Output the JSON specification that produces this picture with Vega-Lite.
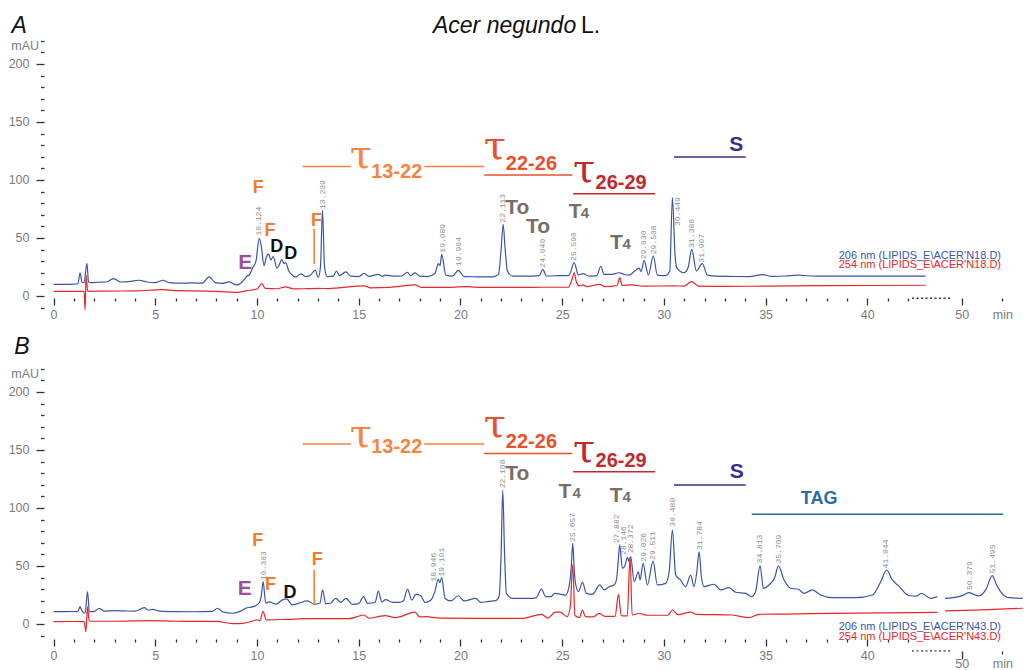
{
"$schema":"https://vega.github.io/schema/vega-lite/v6.json",
"config":{"view":{"stroke":null},"font":"Liberation Sans"},
"padding":{"left":8,"top":14,"right":0,"bottom":0},
"spacing":52,
"bounds":"flush",
"datasets":{
"tr":[
{"p":"A","cls":"206 nm","s":1,"t":0,"v":10},{"p":"A","cls":"206 nm","s":1,"t":0.5,"v":10},{"p":"A","cls":"206 nm","s":1,"t":1.0,"v":10.2},{"p":"A","cls":"206 nm","s":1,"t":1.2,"v":10.5},{"p":"A","cls":"206 nm","s":1,"t":1.3,"v":20},{"p":"A","cls":"206 nm","s":1,"t":1.4,"v":12},{"p":"A","cls":"206 nm","s":1,"t":1.5,"v":11.5},{"p":"A","cls":"206 nm","s":1,"t":1.64,"v":28},{"p":"A","cls":"206 nm","s":1,"t":1.72,"v":12},{"p":"A","cls":"206 nm","s":1,"t":1.85,"v":11.5},{"p":"A","cls":"206 nm","s":1,"t":2.2,"v":11.8},{"p":"A","cls":"206 nm","s":1,"t":2.6,"v":12},{"p":"A","cls":"206 nm","s":1,"t":2.95,"v":15},{"p":"A","cls":"206 nm","s":1,"t":3.3,"v":12},{"p":"A","cls":"206 nm","s":1,"t":3.8,"v":12.5},{"p":"A","cls":"206 nm","s":1,"t":4.18,"v":13.5},{"p":"A","cls":"206 nm","s":1,"t":4.6,"v":12},{"p":"A","cls":"206 nm","s":1,"t":5.0,"v":11.5},{"p":"A","cls":"206 nm","s":1,"t":5.36,"v":13.5},{"p":"A","cls":"206 nm","s":1,"t":5.7,"v":11.5},{"p":"A","cls":"206 nm","s":1,"t":6.2,"v":11},{"p":"A","cls":"206 nm","s":1,"t":6.8,"v":11.2},{"p":"A","cls":"206 nm","s":1,"t":7.3,"v":11},{"p":"A","cls":"206 nm","s":1,"t":7.65,"v":16.4},{"p":"A","cls":"206 nm","s":1,"t":7.95,"v":11.5},{"p":"A","cls":"206 nm","s":1,"t":8.3,"v":10.8},{"p":"A","cls":"206 nm","s":1,"t":8.63,"v":12.2},{"p":"A","cls":"206 nm","s":1,"t":8.96,"v":9.5},{"p":"A","cls":"206 nm","s":1,"t":9.2,"v":11},{"p":"A","cls":"206 nm","s":1,"t":9.37,"v":14},{"p":"A","cls":"206 nm","s":1,"t":9.5,"v":17},{"p":"A","cls":"206 nm","s":1,"t":9.62,"v":18},{"p":"A","cls":"206 nm","s":1,"t":9.78,"v":24},{"p":"A","cls":"206 nm","s":1,"t":9.95,"v":30},{"p":"A","cls":"206 nm","s":1,"t":10.11,"v":49.7},{"p":"A","cls":"206 nm","s":1,"t":10.2,"v":44},{"p":"A","cls":"206 nm","s":1,"t":10.35,"v":26},{"p":"A","cls":"206 nm","s":1,"t":10.45,"v":33},{"p":"A","cls":"206 nm","s":1,"t":10.57,"v":36},{"p":"A","cls":"206 nm","s":1,"t":10.68,"v":31},{"p":"A","cls":"206 nm","s":1,"t":10.8,"v":34},{"p":"A","cls":"206 nm","s":1,"t":10.98,"v":24},{"p":"A","cls":"206 nm","s":1,"t":11.1,"v":27},{"p":"A","cls":"206 nm","s":1,"t":11.22,"v":31.6},{"p":"A","cls":"206 nm","s":1,"t":11.32,"v":28},{"p":"A","cls":"206 nm","s":1,"t":11.42,"v":28.5},{"p":"A","cls":"206 nm","s":1,"t":11.55,"v":22},{"p":"A","cls":"206 nm","s":1,"t":11.67,"v":19},{"p":"A","cls":"206 nm","s":1,"t":11.91,"v":16.4},{"p":"A","cls":"206 nm","s":1,"t":12.16,"v":19},{"p":"A","cls":"206 nm","s":1,"t":12.4,"v":16.7},{"p":"A","cls":"206 nm","s":1,"t":12.6,"v":17.5},{"p":"A","cls":"206 nm","s":1,"t":12.86,"v":22.1},{"p":"A","cls":"206 nm","s":1,"t":13.01,"v":16},{"p":"A","cls":"206 nm","s":1,"t":13.12,"v":25},{"p":"A","cls":"206 nm","s":1,"t":13.22,"v":73.9},{"p":"A","cls":"206 nm","s":1,"t":13.32,"v":25},{"p":"A","cls":"206 nm","s":1,"t":13.45,"v":16.7},{"p":"A","cls":"206 nm","s":1,"t":13.75,"v":17},{"p":"A","cls":"206 nm","s":1,"t":13.91,"v":21.5},{"p":"A","cls":"206 nm","s":1,"t":14.05,"v":17.5},{"p":"A","cls":"206 nm","s":1,"t":14.37,"v":20.8},{"p":"A","cls":"206 nm","s":1,"t":14.6,"v":17},{"p":"A","cls":"206 nm","s":1,"t":15.0,"v":16.7},{"p":"A","cls":"206 nm","s":1,"t":15.27,"v":19.4},{"p":"A","cls":"206 nm","s":1,"t":15.5,"v":16.8},{"p":"A","cls":"206 nm","s":1,"t":15.97,"v":18.6},{"p":"A","cls":"206 nm","s":1,"t":16.15,"v":17},{"p":"A","cls":"206 nm","s":1,"t":16.33,"v":18},{"p":"A","cls":"206 nm","s":1,"t":16.74,"v":17},{"p":"A","cls":"206 nm","s":1,"t":17.1,"v":17.2},{"p":"A","cls":"206 nm","s":1,"t":17.4,"v":20.4},{"p":"A","cls":"206 nm","s":1,"t":17.55,"v":17.5},{"p":"A","cls":"206 nm","s":1,"t":17.77,"v":19.8},{"p":"A","cls":"206 nm","s":1,"t":18.0,"v":17},{"p":"A","cls":"206 nm","s":1,"t":18.38,"v":16.7},{"p":"A","cls":"206 nm","s":1,"t":18.74,"v":19.3},{"p":"A","cls":"206 nm","s":1,"t":18.92,"v":27.9},{"p":"A","cls":"206 nm","s":1,"t":19.0,"v":26},{"p":"A","cls":"206 nm","s":1,"t":19.08,"v":35.9},{"p":"A","cls":"206 nm","s":1,"t":19.28,"v":18},{"p":"A","cls":"206 nm","s":1,"t":19.6,"v":17},{"p":"A","cls":"206 nm","s":1,"t":19.9,"v":22},{"p":"A","cls":"206 nm","s":1,"t":20.18,"v":16.7},{"p":"A","cls":"206 nm","s":1,"t":20.8,"v":16.5},{"p":"A","cls":"206 nm","s":1,"t":21.57,"v":16.4},{"p":"A","cls":"206 nm","s":1,"t":21.87,"v":18.6},{"p":"A","cls":"206 nm","s":1,"t":22.0,"v":40},{"p":"A","cls":"206 nm","s":1,"t":22.1,"v":61.8},{"p":"A","cls":"206 nm","s":1,"t":22.2,"v":40},{"p":"A","cls":"206 nm","s":1,"t":22.31,"v":21.4},{"p":"A","cls":"206 nm","s":1,"t":22.56,"v":17},{"p":"A","cls":"206 nm","s":1,"t":23.2,"v":17},{"p":"A","cls":"206 nm","s":1,"t":23.87,"v":17.5},{"p":"A","cls":"206 nm","s":1,"t":24.05,"v":22.9},{"p":"A","cls":"206 nm","s":1,"t":24.23,"v":17.2},{"p":"A","cls":"206 nm","s":1,"t":24.8,"v":17.5},{"p":"A","cls":"206 nm","s":1,"t":25.34,"v":17.8},{"p":"A","cls":"206 nm","s":1,"t":25.59,"v":28.7},{"p":"A","cls":"206 nm","s":1,"t":25.8,"v":18},{"p":"A","cls":"206 nm","s":1,"t":26.03,"v":19.3},{"p":"A","cls":"206 nm","s":1,"t":26.32,"v":17},{"p":"A","cls":"206 nm","s":1,"t":26.7,"v":17.5},{"p":"A","cls":"206 nm","s":1,"t":26.9,"v":25.6},{"p":"A","cls":"206 nm","s":1,"t":27.06,"v":18.6},{"p":"A","cls":"206 nm","s":1,"t":27.4,"v":18.5},{"p":"A","cls":"206 nm","s":1,"t":27.8,"v":20},{"p":"A","cls":"206 nm","s":1,"t":28.05,"v":18.5},{"p":"A","cls":"206 nm","s":1,"t":28.29,"v":18},{"p":"A","cls":"206 nm","s":1,"t":28.54,"v":21},{"p":"A","cls":"206 nm","s":1,"t":28.78,"v":24},{"p":"A","cls":"206 nm","s":1,"t":28.88,"v":21},{"p":"A","cls":"206 nm","s":1,"t":29.03,"v":30.7},{"p":"A","cls":"206 nm","s":1,"t":29.24,"v":18},{"p":"A","cls":"206 nm","s":1,"t":29.48,"v":34.5},{"p":"A","cls":"206 nm","s":1,"t":29.68,"v":18},{"p":"A","cls":"206 nm","s":1,"t":30.09,"v":17.5},{"p":"A","cls":"206 nm","s":1,"t":30.29,"v":21.4},{"p":"A","cls":"206 nm","s":1,"t":30.42,"v":84.8},{"p":"A","cls":"206 nm","s":1,"t":30.55,"v":35},{"p":"A","cls":"206 nm","s":1,"t":30.63,"v":24.4},{"p":"A","cls":"206 nm","s":1,"t":30.99,"v":20},{"p":"A","cls":"206 nm","s":1,"t":31.2,"v":25},{"p":"A","cls":"206 nm","s":1,"t":31.37,"v":40.2},{"p":"A","cls":"206 nm","s":1,"t":31.6,"v":21.4},{"p":"A","cls":"206 nm","s":1,"t":31.89,"v":27.9},{"p":"A","cls":"206 nm","s":1,"t":32.14,"v":18},{"p":"A","cls":"206 nm","s":1,"t":32.6,"v":17},{"p":"A","cls":"206 nm","s":1,"t":33.2,"v":16.8},{"p":"A","cls":"206 nm","s":1,"t":34.19,"v":16.7},{"p":"A","cls":"206 nm","s":1,"t":34.84,"v":18.4},{"p":"A","cls":"206 nm","s":1,"t":35.3,"v":16.8},{"p":"A","cls":"206 nm","s":1,"t":36.0,"v":17.2},{"p":"A","cls":"206 nm","s":1,"t":36.56,"v":18},{"p":"A","cls":"206 nm","s":1,"t":37.2,"v":17.2},{"p":"A","cls":"206 nm","s":1,"t":38,"v":17},{"p":"A","cls":"206 nm","s":1,"t":40,"v":17},{"p":"A","cls":"206 nm","s":1,"t":42.87,"v":17},
{"p":"A","cls":"254 nm","s":1,"t":0,"v":4},{"p":"A","cls":"254 nm","s":1,"t":1.0,"v":4},{"p":"A","cls":"254 nm","s":1,"t":1.5,"v":4},{"p":"A","cls":"254 nm","s":1,"t":1.55,"v":-12},{"p":"A","cls":"254 nm","s":1,"t":1.6,"v":18},{"p":"A","cls":"254 nm","s":1,"t":1.68,"v":4},{"p":"A","cls":"254 nm","s":1,"t":2.5,"v":4.2},{"p":"A","cls":"254 nm","s":1,"t":4.0,"v":4.3},{"p":"A","cls":"254 nm","s":1,"t":5.38,"v":5.5},{"p":"A","cls":"254 nm","s":1,"t":6,"v":4.5},{"p":"A","cls":"254 nm","s":1,"t":7.5,"v":4.2},{"p":"A","cls":"254 nm","s":1,"t":8.5,"v":3.5},{"p":"A","cls":"254 nm","s":1,"t":9.0,"v":3},{"p":"A","cls":"254 nm","s":1,"t":9.5,"v":4.5},{"p":"A","cls":"254 nm","s":1,"t":10.0,"v":6},{"p":"A","cls":"254 nm","s":1,"t":10.24,"v":10.6},{"p":"A","cls":"254 nm","s":1,"t":10.4,"v":6.5},{"p":"A","cls":"254 nm","s":1,"t":11.0,"v":6.2},{"p":"A","cls":"254 nm","s":1,"t":11.4,"v":7.8},{"p":"A","cls":"254 nm","s":1,"t":11.8,"v":6},{"p":"A","cls":"254 nm","s":1,"t":12.5,"v":6.3},{"p":"A","cls":"254 nm","s":1,"t":13.0,"v":6.5},{"p":"A","cls":"254 nm","s":1,"t":13.5,"v":6.3},{"p":"A","cls":"254 nm","s":1,"t":14.0,"v":7},{"p":"A","cls":"254 nm","s":1,"t":15.27,"v":8.6},{"p":"A","cls":"254 nm","s":1,"t":15.6,"v":7},{"p":"A","cls":"254 nm","s":1,"t":16.5,"v":7.3},{"p":"A","cls":"254 nm","s":1,"t":17.77,"v":9.5},{"p":"A","cls":"254 nm","s":1,"t":18.1,"v":7.3},{"p":"A","cls":"254 nm","s":1,"t":19.0,"v":7.3},{"p":"A","cls":"254 nm","s":1,"t":20.4,"v":8},{"p":"A","cls":"254 nm","s":1,"t":21,"v":7.3},{"p":"A","cls":"254 nm","s":1,"t":23,"v":7.3},{"p":"A","cls":"254 nm","s":1,"t":24,"v":7.5},{"p":"A","cls":"254 nm","s":1,"t":25.3,"v":7.5},{"p":"A","cls":"254 nm","s":1,"t":25.5,"v":15},{"p":"A","cls":"254 nm","s":1,"t":25.59,"v":20},{"p":"A","cls":"254 nm","s":1,"t":25.7,"v":12},{"p":"A","cls":"254 nm","s":1,"t":25.85,"v":8.6},{"p":"A","cls":"254 nm","s":1,"t":26.03,"v":9.5},{"p":"A","cls":"254 nm","s":1,"t":26.2,"v":8},{"p":"A","cls":"254 nm","s":1,"t":26.85,"v":10},{"p":"A","cls":"254 nm","s":1,"t":27.1,"v":8},{"p":"A","cls":"254 nm","s":1,"t":27.7,"v":9},{"p":"A","cls":"254 nm","s":1,"t":27.83,"v":15.8},{"p":"A","cls":"254 nm","s":1,"t":27.95,"v":9},{"p":"A","cls":"254 nm","s":1,"t":28.37,"v":9.5},{"p":"A","cls":"254 nm","s":1,"t":29,"v":8.5},{"p":"A","cls":"254 nm","s":1,"t":30.5,"v":8.6},{"p":"A","cls":"254 nm","s":1,"t":31.0,"v":8.5},{"p":"A","cls":"254 nm","s":1,"t":31.37,"v":12.4},{"p":"A","cls":"254 nm","s":1,"t":31.7,"v":8.5},{"p":"A","cls":"254 nm","s":1,"t":33,"v":8.2},{"p":"A","cls":"254 nm","s":1,"t":35,"v":8.5},{"p":"A","cls":"254 nm","s":1,"t":38,"v":8.8},{"p":"A","cls":"254 nm","s":1,"t":42.87,"v":9.2},
{"p":"B","cls":"206 nm","s":1,"t":0,"v":10.6},{"p":"B","cls":"206 nm","s":1,"t":0.5,"v":10.6},{"p":"B","cls":"206 nm","s":1,"t":1.0,"v":10.7},{"p":"B","cls":"206 nm","s":1,"t":1.2,"v":10.8},{"p":"B","cls":"206 nm","s":1,"t":1.3,"v":14.9},{"p":"B","cls":"206 nm","s":1,"t":1.4,"v":11},{"p":"B","cls":"206 nm","s":1,"t":1.55,"v":9.2},{"p":"B","cls":"206 nm","s":1,"t":1.67,"v":27.8},{"p":"B","cls":"206 nm","s":1,"t":1.76,"v":10.5},{"p":"B","cls":"206 nm","s":1,"t":2.0,"v":10.8},{"p":"B","cls":"206 nm","s":1,"t":2.25,"v":13.5},{"p":"B","cls":"206 nm","s":1,"t":2.5,"v":11},{"p":"B","cls":"206 nm","s":1,"t":3.0,"v":11.5},{"p":"B","cls":"206 nm","s":1,"t":3.5,"v":11.2},{"p":"B","cls":"206 nm","s":1,"t":4.0,"v":11},{"p":"B","cls":"206 nm","s":1,"t":4.46,"v":14},{"p":"B","cls":"206 nm","s":1,"t":4.65,"v":12},{"p":"B","cls":"206 nm","s":1,"t":4.87,"v":12.5},{"p":"B","cls":"206 nm","s":1,"t":5.2,"v":11},{"p":"B","cls":"206 nm","s":1,"t":6,"v":10.6},{"p":"B","cls":"206 nm","s":1,"t":7,"v":10.5},{"p":"B","cls":"206 nm","s":1,"t":7.8,"v":10.8},{"p":"B","cls":"206 nm","s":1,"t":8.06,"v":13.5},{"p":"B","cls":"206 nm","s":1,"t":8.3,"v":10.5},{"p":"B","cls":"206 nm","s":1,"t":8.8,"v":9.2},{"p":"B","cls":"206 nm","s":1,"t":9.2,"v":11},{"p":"B","cls":"206 nm","s":1,"t":9.45,"v":13.5},{"p":"B","cls":"206 nm","s":1,"t":9.7,"v":14.5},{"p":"B","cls":"206 nm","s":1,"t":9.94,"v":15.8},{"p":"B","cls":"206 nm","s":1,"t":10.14,"v":19.2},{"p":"B","cls":"206 nm","s":1,"t":10.22,"v":25},{"p":"B","cls":"206 nm","s":1,"t":10.3,"v":36.5},{"p":"B","cls":"206 nm","s":1,"t":10.43,"v":18},{"p":"B","cls":"206 nm","s":1,"t":10.6,"v":19},{"p":"B","cls":"206 nm","s":1,"t":10.93,"v":17},{"p":"B","cls":"206 nm","s":1,"t":11.25,"v":20.7},{"p":"B","cls":"206 nm","s":1,"t":11.45,"v":21.6},{"p":"B","cls":"206 nm","s":1,"t":11.74,"v":16.4},{"p":"B","cls":"206 nm","s":1,"t":12.07,"v":18},{"p":"B","cls":"206 nm","s":1,"t":12.48,"v":19.8},{"p":"B","cls":"206 nm","s":1,"t":12.81,"v":16.9},{"p":"B","cls":"206 nm","s":1,"t":13.1,"v":18},{"p":"B","cls":"206 nm","s":1,"t":13.22,"v":29.3},{"p":"B","cls":"206 nm","s":1,"t":13.38,"v":17.5},{"p":"B","cls":"206 nm","s":1,"t":13.6,"v":17.8},{"p":"B","cls":"206 nm","s":1,"t":13.87,"v":22.1},{"p":"B","cls":"206 nm","s":1,"t":14.12,"v":18.6},{"p":"B","cls":"206 nm","s":1,"t":14.37,"v":22.1},{"p":"B","cls":"206 nm","s":1,"t":14.69,"v":16.9},{"p":"B","cls":"206 nm","s":1,"t":15.0,"v":17.5},{"p":"B","cls":"206 nm","s":1,"t":15.24,"v":23.6},{"p":"B","cls":"206 nm","s":1,"t":15.43,"v":17.8},{"p":"B","cls":"206 nm","s":1,"t":15.8,"v":18.5},{"p":"B","cls":"206 nm","s":1,"t":15.97,"v":28.2},{"p":"B","cls":"206 nm","s":1,"t":16.13,"v":19},{"p":"B","cls":"206 nm","s":1,"t":16.33,"v":21},{"p":"B","cls":"206 nm","s":1,"t":16.66,"v":18.6},{"p":"B","cls":"206 nm","s":1,"t":16.99,"v":18.6},{"p":"B","cls":"206 nm","s":1,"t":17.2,"v":20},{"p":"B","cls":"206 nm","s":1,"t":17.4,"v":30},{"p":"B","cls":"206 nm","s":1,"t":17.61,"v":20.5},{"p":"B","cls":"206 nm","s":1,"t":17.81,"v":25.4},{"p":"B","cls":"206 nm","s":1,"t":18.05,"v":24.3},{"p":"B","cls":"206 nm","s":1,"t":18.26,"v":18.6},{"p":"B","cls":"206 nm","s":1,"t":18.54,"v":20.5},{"p":"B","cls":"206 nm","s":1,"t":18.74,"v":27.6},{"p":"B","cls":"206 nm","s":1,"t":18.91,"v":38.5},{"p":"B","cls":"206 nm","s":1,"t":18.99,"v":35.6},{"p":"B","cls":"206 nm","s":1,"t":19.08,"v":39.9},{"p":"B","cls":"206 nm","s":1,"t":19.24,"v":22.1},{"p":"B","cls":"206 nm","s":1,"t":19.52,"v":19.8},{"p":"B","cls":"206 nm","s":1,"t":19.9,"v":24.3},{"p":"B","cls":"206 nm","s":1,"t":20.18,"v":19.8},{"p":"B","cls":"206 nm","s":1,"t":20.75,"v":22.1},{"p":"B","cls":"206 nm","s":1,"t":21.0,"v":18.6},{"p":"B","cls":"206 nm","s":1,"t":21.4,"v":19.5},{"p":"B","cls":"206 nm","s":1,"t":21.74,"v":20.1},{"p":"B","cls":"206 nm","s":1,"t":21.9,"v":23.6},{"p":"B","cls":"206 nm","s":1,"t":22.0,"v":60},{"p":"B","cls":"206 nm","s":1,"t":22.08,"v":115.5},{"p":"B","cls":"206 nm","s":1,"t":22.17,"v":60},{"p":"B","cls":"206 nm","s":1,"t":22.26,"v":26.2},{"p":"B","cls":"206 nm","s":1,"t":22.56,"v":22.1},{"p":"B","cls":"206 nm","s":1,"t":23.0,"v":22},{"p":"B","cls":"206 nm","s":1,"t":23.54,"v":22.1},{"p":"B","cls":"206 nm","s":1,"t":23.73,"v":22.7},{"p":"B","cls":"206 nm","s":1,"t":23.98,"v":30},{"p":"B","cls":"206 nm","s":1,"t":24.19,"v":23.6},{"p":"B","cls":"206 nm","s":1,"t":24.45,"v":23.5},{"p":"B","cls":"206 nm","s":1,"t":24.65,"v":26.4},{"p":"B","cls":"206 nm","s":1,"t":24.93,"v":25.5},{"p":"B","cls":"206 nm","s":1,"t":25.17,"v":24.9},{"p":"B","cls":"206 nm","s":1,"t":25.34,"v":32.1},{"p":"B","cls":"206 nm","s":1,"t":25.45,"v":50},{"p":"B","cls":"206 nm","s":1,"t":25.52,"v":69.5},{"p":"B","cls":"206 nm","s":1,"t":25.6,"v":45},{"p":"B","cls":"206 nm","s":1,"t":25.67,"v":33.6},{"p":"B","cls":"206 nm","s":1,"t":25.8,"v":27.8},{"p":"B","cls":"206 nm","s":1,"t":26.0,"v":35.8},{"p":"B","cls":"206 nm","s":1,"t":26.19,"v":26.4},{"p":"B","cls":"206 nm","s":1,"t":26.49,"v":25.5},{"p":"B","cls":"206 nm","s":1,"t":26.86,"v":33.6},{"p":"B","cls":"206 nm","s":1,"t":27.06,"v":29.3},{"p":"B","cls":"206 nm","s":1,"t":27.31,"v":32.1},{"p":"B","cls":"206 nm","s":1,"t":27.55,"v":33.6},{"p":"B","cls":"206 nm","s":1,"t":27.67,"v":37.9},{"p":"B","cls":"206 nm","s":1,"t":27.76,"v":55},{"p":"B","cls":"206 nm","s":1,"t":27.83,"v":68.1},{"p":"B","cls":"206 nm","s":1,"t":27.96,"v":48},{"p":"B","cls":"206 nm","s":1,"t":28.08,"v":50},{"p":"B","cls":"206 nm","s":1,"t":28.21,"v":57.4},{"p":"B","cls":"206 nm","s":1,"t":28.29,"v":53.7},{"p":"B","cls":"206 nm","s":1,"t":28.37,"v":58},{"p":"B","cls":"206 nm","s":1,"t":28.54,"v":36.4},{"p":"B","cls":"206 nm","s":1,"t":28.75,"v":45},{"p":"B","cls":"206 nm","s":1,"t":28.83,"v":37.9},{"p":"B","cls":"206 nm","s":1,"t":28.98,"v":52.2},{"p":"B","cls":"206 nm","s":1,"t":29.19,"v":33.6},{"p":"B","cls":"206 nm","s":1,"t":29.47,"v":54.2},{"p":"B","cls":"206 nm","s":1,"t":29.68,"v":33.6},{"p":"B","cls":"206 nm","s":1,"t":30.09,"v":35},{"p":"B","cls":"206 nm","s":1,"t":30.26,"v":45},{"p":"B","cls":"206 nm","s":1,"t":30.42,"v":80.9},{"p":"B","cls":"206 nm","s":1,"t":30.58,"v":42.1},{"p":"B","cls":"206 nm","s":1,"t":30.82,"v":37.9},{"p":"B","cls":"206 nm","s":1,"t":31.07,"v":32.1},{"p":"B","cls":"206 nm","s":1,"t":31.32,"v":42.1},{"p":"B","cls":"206 nm","s":1,"t":31.48,"v":32.1},{"p":"B","cls":"206 nm","s":1,"t":31.62,"v":45},{"p":"B","cls":"206 nm","s":1,"t":31.73,"v":62.3},{"p":"B","cls":"206 nm","s":1,"t":31.85,"v":40},{"p":"B","cls":"206 nm","s":1,"t":31.98,"v":32.2},{"p":"B","cls":"206 nm","s":1,"t":32.47,"v":34.2},{"p":"B","cls":"206 nm","s":1,"t":32.8,"v":29.3},{"p":"B","cls":"206 nm","s":1,"t":33.2,"v":31.3},{"p":"B","cls":"206 nm","s":1,"t":33.53,"v":27.3},{"p":"B","cls":"206 nm","s":1,"t":34.02,"v":26.4},{"p":"B","cls":"206 nm","s":1,"t":34.32,"v":23.5},{"p":"B","cls":"206 nm","s":1,"t":34.51,"v":27.9},{"p":"B","cls":"206 nm","s":1,"t":34.73,"v":50.3},{"p":"B","cls":"206 nm","s":1,"t":34.89,"v":30.8},{"p":"B","cls":"206 nm","s":1,"t":35.17,"v":33.6},{"p":"B","cls":"206 nm","s":1,"t":35.45,"v":40},{"p":"B","cls":"206 nm","s":1,"t":35.63,"v":50},{"p":"B","cls":"206 nm","s":1,"t":35.91,"v":37.9},{"p":"B","cls":"206 nm","s":1,"t":36.24,"v":30.8},{"p":"B","cls":"206 nm","s":1,"t":36.61,"v":29.9},{"p":"B","cls":"206 nm","s":1,"t":36.89,"v":26.4},{"p":"B","cls":"206 nm","s":1,"t":37.3,"v":29.3},{"p":"B","cls":"206 nm","s":1,"t":37.71,"v":24.9},{"p":"B","cls":"206 nm","s":1,"t":38.28,"v":22.6},{"p":"B","cls":"206 nm","s":1,"t":39.43,"v":22.6},{"p":"B","cls":"206 nm","s":1,"t":40.25,"v":24.9},{"p":"B","cls":"206 nm","s":1,"t":40.66,"v":36.4},{"p":"B","cls":"206 nm","s":1,"t":40.95,"v":46.5},{"p":"B","cls":"206 nm","s":1,"t":41.23,"v":37.9},{"p":"B","cls":"206 nm","s":1,"t":41.53,"v":33},{"p":"B","cls":"206 nm","s":1,"t":42.05,"v":24.3},{"p":"B","cls":"206 nm","s":1,"t":42.4,"v":24},{"p":"B","cls":"206 nm","s":1,"t":42.67,"v":26.4},{"p":"B","cls":"206 nm","s":1,"t":43.11,"v":22},{"p":"B","cls":"206 nm","s":1,"t":43.44,"v":23.5},
{"p":"B","cls":"206 nm","s":2,"t":49.18,"v":22},{"p":"B","cls":"206 nm","s":2,"t":49.87,"v":23.5},{"p":"B","cls":"206 nm","s":2,"t":50.1,"v":25},{"p":"B","cls":"206 nm","s":2,"t":50.36,"v":27},{"p":"B","cls":"206 nm","s":2,"t":50.6,"v":25.5},{"p":"B","cls":"206 nm","s":2,"t":50.85,"v":24.3},{"p":"B","cls":"206 nm","s":2,"t":51.2,"v":30},{"p":"B","cls":"206 nm","s":2,"t":51.5,"v":41.6},{"p":"B","cls":"206 nm","s":2,"t":51.7,"v":34},{"p":"B","cls":"206 nm","s":2,"t":51.91,"v":27.9},{"p":"B","cls":"206 nm","s":2,"t":52.32,"v":22.6},{"p":"B","cls":"206 nm","s":2,"t":53.0,"v":22},
{"p":"B","cls":"254 nm","s":1,"t":0,"v":2},{"p":"B","cls":"254 nm","s":1,"t":1.0,"v":2.1},{"p":"B","cls":"254 nm","s":1,"t":1.5,"v":2},{"p":"B","cls":"254 nm","s":1,"t":1.59,"v":-6.6},{"p":"B","cls":"254 nm","s":1,"t":1.67,"v":14.9},{"p":"B","cls":"254 nm","s":1,"t":1.75,"v":2.3},{"p":"B","cls":"254 nm","s":1,"t":3,"v":2.3},{"p":"B","cls":"254 nm","s":1,"t":4.8,"v":2.8},{"p":"B","cls":"254 nm","s":1,"t":6,"v":2.3},{"p":"B","cls":"254 nm","s":1,"t":8,"v":2.2},{"p":"B","cls":"254 nm","s":1,"t":8.8,"v":0.3},{"p":"B","cls":"254 nm","s":1,"t":9.3,"v":0.5},{"p":"B","cls":"254 nm","s":1,"t":9.8,"v":2.5},{"p":"B","cls":"254 nm","s":1,"t":10.0,"v":3.6},{"p":"B","cls":"254 nm","s":1,"t":10.14,"v":2.8},{"p":"B","cls":"254 nm","s":1,"t":10.3,"v":10.9},{"p":"B","cls":"254 nm","s":1,"t":10.45,"v":3.5},{"p":"B","cls":"254 nm","s":1,"t":11.5,"v":4},{"p":"B","cls":"254 nm","s":1,"t":12.5,"v":4.5},{"p":"B","cls":"254 nm","s":1,"t":13.9,"v":4.6},{"p":"B","cls":"254 nm","s":1,"t":14.5,"v":4.5},{"p":"B","cls":"254 nm","s":1,"t":15.27,"v":7.7},{"p":"B","cls":"254 nm","s":1,"t":15.5,"v":5},{"p":"B","cls":"254 nm","s":1,"t":15.97,"v":6.3},{"p":"B","cls":"254 nm","s":1,"t":16.3,"v":7.2},{"p":"B","cls":"254 nm","s":1,"t":16.8,"v":5.5},{"p":"B","cls":"254 nm","s":1,"t":17.77,"v":10.1},{"p":"B","cls":"254 nm","s":1,"t":18.0,"v":6},{"p":"B","cls":"254 nm","s":1,"t":18.3,"v":6.3},{"p":"B","cls":"254 nm","s":1,"t":19,"v":5},{"p":"B","cls":"254 nm","s":1,"t":21,"v":4.8},{"p":"B","cls":"254 nm","s":1,"t":23,"v":4.8},{"p":"B","cls":"254 nm","s":1,"t":23.99,"v":8.3},{"p":"B","cls":"254 nm","s":1,"t":24.3,"v":5},{"p":"B","cls":"254 nm","s":1,"t":24.66,"v":10.1},{"p":"B","cls":"254 nm","s":1,"t":24.9,"v":10.1},{"p":"B","cls":"254 nm","s":1,"t":25.25,"v":6.3},{"p":"B","cls":"254 nm","s":1,"t":25.4,"v":15},{"p":"B","cls":"254 nm","s":1,"t":25.52,"v":51},{"p":"B","cls":"254 nm","s":1,"t":25.63,"v":7.2},{"p":"B","cls":"254 nm","s":1,"t":25.85,"v":5.5},{"p":"B","cls":"254 nm","s":1,"t":26.0,"v":12},{"p":"B","cls":"254 nm","s":1,"t":26.14,"v":6.3},{"p":"B","cls":"254 nm","s":1,"t":26.5,"v":6},{"p":"B","cls":"254 nm","s":1,"t":26.83,"v":9.1},{"p":"B","cls":"254 nm","s":1,"t":27.1,"v":6.5},{"p":"B","cls":"254 nm","s":1,"t":27.6,"v":6.5},{"p":"B","cls":"254 nm","s":1,"t":27.77,"v":25.5},{"p":"B","cls":"254 nm","s":1,"t":27.9,"v":7.2},{"p":"B","cls":"254 nm","s":1,"t":28.2,"v":7},{"p":"B","cls":"254 nm","s":1,"t":28.34,"v":58},{"p":"B","cls":"254 nm","s":1,"t":28.44,"v":7.7},{"p":"B","cls":"254 nm","s":1,"t":28.78,"v":9},{"p":"B","cls":"254 nm","s":1,"t":29.2,"v":7.5},{"p":"B","cls":"254 nm","s":1,"t":30.2,"v":7.5},{"p":"B","cls":"254 nm","s":1,"t":30.42,"v":12},{"p":"B","cls":"254 nm","s":1,"t":30.7,"v":8},{"p":"B","cls":"254 nm","s":1,"t":31.32,"v":10.1},{"p":"B","cls":"254 nm","s":1,"t":31.6,"v":8.3},{"p":"B","cls":"254 nm","s":1,"t":33.36,"v":7.7},{"p":"B","cls":"254 nm","s":1,"t":34.18,"v":5.4},{"p":"B","cls":"254 nm","s":1,"t":34.68,"v":8.3},{"p":"B","cls":"254 nm","s":1,"t":36,"v":8.5},{"p":"B","cls":"254 nm","s":1,"t":38.28,"v":9.1},{"p":"B","cls":"254 nm","s":1,"t":41,"v":9.5},{"p":"B","cls":"254 nm","s":1,"t":43.44,"v":10},
{"p":"B","cls":"254 nm","s":2,"t":49.18,"v":11.2},{"p":"B","cls":"254 nm","s":2,"t":51,"v":12.2},{"p":"B","cls":"254 nm","s":2,"t":53.0,"v":13.5}
],
"rl":[
{"p":"A","g":"ann","cls":"F","t":12.81,"t2":12.81,"v":27.6,"v2":57.8},
{"p":"A","g":"ann","cls":"t13","t":12.24,"t2":14.61,"v":111.6,"v2":111.6},
{"p":"A","g":"ann","cls":"t13","t":18.22,"t2":21.17,"v":111.6,"v2":111.6},
{"p":"A","g":"ann","cls":"t22","t":21.17,"t2":25.5,"v":104.3,"v2":104.3},
{"p":"A","g":"ann","cls":"t26","t":25.54,"t2":29.57,"v":88.2,"v2":88.2},
{"p":"A","g":"ann","cls":"S","t":30.5,"t2":34.02,"v":119.8,"v2":119.8},
{"p":"A","g":"axis","cls":"axis","t":42.2,"t2":49.5,"v":-2,"v2":-2},
{"p":"B","g":"ann","cls":"F","t":12.81,"t2":12.81,"v":16.4,"v2":46.5},
{"p":"B","g":"ann","cls":"t13","t":12.24,"t2":14.61,"v":155.2,"v2":155.2},
{"p":"B","g":"ann","cls":"t13","t":18.22,"t2":21.17,"v":155.2,"v2":155.2},
{"p":"B","g":"ann","cls":"t22","t":21.17,"t2":25.5,"v":147,"v2":147},
{"p":"B","g":"ann","cls":"t26","t":25.54,"t2":29.57,"v":131.3,"v2":131.3},
{"p":"B","g":"ann","cls":"S","t":30.5,"t2":34.02,"v":119.8,"v2":119.8},
{"p":"B","g":"ann","cls":"TAG","t":34.32,"t2":52.03,"v":94.5,"v2":94.5},
{"p":"B","g":"axis","cls":"axis","t":42.2,"t2":49.5,"v":-23.3,"v2":-23.3}
],
"tx":[
{"p":"A","g":"pnl","cls":"ttl","t":-1.69,"v":227,"s":"A"},
{"p":"A","g":"ttlI","cls":"ttl","t":25.69,"v":227,"s":"Acer negundo"},
{"p":"A","g":"ttlN","cls":"ttl","t":25.93,"v":227,"s":"L."},
{"p":"A","g":"big","cls":"E","t":9.42,"v":23,"s":"E"},
{"p":"A","g":"F","cls":"D","t":10.97,"v":38.2,"s":"D"},
{"p":"A","g":"F","cls":"D","t":11.66,"v":32.2,"s":"D"},
{"p":"A","g":"big","cls":"To","t":22.8,"v":70.4,"s":"To"},
{"p":"A","g":"big","cls":"To","t":23.82,"v":54,"s":"To"},
{"p":"A","g":"big","cls":"T","t":25.64,"v":67.5,"s":"T"},
{"p":"A","g":"big","cls":"T","t":27.67,"v":40.3,"s":"T"},
{"p":"A","g":"big","cls":"S","t":33.56,"v":125,"s":"S"},
{"p":"A","g":"F","cls":"F","t":10.06,"v":88.5,"s":"F"},
{"p":"A","g":"F","cls":"F","t":10.64,"v":51.7,"s":"F"},
{"p":"A","g":"F","cls":"F","t":12.93,"v":60.3,"s":"F"},
{"p":"A","g":"four","cls":"T","t":26.12,"v":67.5,"s":"4"},
{"p":"A","g":"four","cls":"T","t":28.17,"v":40.3,"s":"4"},
{"p":"A","g":"tau","cls":"t13","t":15.1,"v":110,"s":"τ"},
{"p":"A","g":"tau","cls":"t22","t":21.69,"v":117.8,"s":"τ"},
{"p":"A","g":"tau","cls":"t26","t":26.08,"v":98.5,"s":"τ"},
{"p":"A","g":"tsub","cls":"t13","t":16.87,"v":102,"s":"13-22"},
{"p":"A","g":"tsub","cls":"t22","t":23.49,"v":108.4,"s":"22-26"},
{"p":"A","g":"tsub","cls":"t26","t":27.9,"v":92,"s":"26-29"},
{"p":"A","g":"leg","cls":"206 nm","t":51.93,"v":32.2,"s":"206 nm (LIPIDS_E\\ACER'N18.D)"},
{"p":"A","g":"leg","cls":"254 nm","t":51.93,"v":23.9,"s":"254 nm (LIPIDS_E\\ACER'N18.D)"},
{"p":"A","g":"pk","cls":"pk","t":10.11,"v":52,"s":"10.124"},
{"p":"A","g":"pk","cls":"pk","t":13.22,"v":75,"s":"13.239"},
{"p":"A","g":"pk","cls":"pk","t":19.15,"v":37.3,"s":"19.089"},
{"p":"A","g":"pk","cls":"pk","t":19.94,"v":25.9,"s":"19.904"},
{"p":"A","g":"pk","cls":"pk","t":22.1,"v":63.2,"s":"22.113"},
{"p":"A","g":"pk","cls":"pk","t":24.06,"v":24.4,"s":"24.040"},
{"p":"A","g":"pk","cls":"pk","t":25.6,"v":30.2,"s":"25.590"},
{"p":"A","g":"pk","cls":"pk","t":29.03,"v":31.6,"s":"29.030"},
{"p":"A","g":"pk","cls":"pk","t":29.52,"v":36,"s":"29.508"},
{"p":"A","g":"pk","cls":"pk","t":30.71,"v":60.3,"s":"30.449"},
{"p":"A","g":"pk","cls":"pk","t":31.4,"v":41.6,"s":"31.380"},
{"p":"A","g":"pk","cls":"pk","t":31.89,"v":28.7,"s":"31.907"},
{"p":"B","g":"pnl","cls":"ttl","t":-1.56,"v":232.4,"s":"B"},
{"p":"B","g":"big","cls":"E","t":9.4,"v":25,"s":"E"},
{"p":"B","g":"F","cls":"D","t":11.62,"v":22.7,"s":"D"},
{"p":"B","g":"big","cls":"To","t":22.8,"v":124.1,"s":"To"},
{"p":"B","g":"big","cls":"T","t":25.13,"v":108.3,"s":"T"},
{"p":"B","g":"big","cls":"T","t":27.65,"v":104.8,"s":"T"},
{"p":"B","g":"big","cls":"S","t":33.58,"v":126.1,"s":"S"},
{"p":"B","g":"F","cls":"F","t":10.04,"v":67.2,"s":"F"},
{"p":"B","g":"F","cls":"F","t":10.66,"v":29.3,"s":"F"},
{"p":"B","g":"F","cls":"F","t":12.96,"v":50.9,"s":"F"},
{"p":"B","g":"four","cls":"T","t":25.72,"v":108.3,"s":"4"},
{"p":"B","g":"four","cls":"T","t":28.17,"v":104.8,"s":"4"},
{"p":"B","g":"TAG","cls":"TAG","t":37.63,"v":103.1,"s":"TAG"},
{"p":"B","g":"tau","cls":"t13","t":15.1,"v":152.8,"s":"τ"},
{"p":"B","g":"tau","cls":"t22","t":21.69,"v":161.5,"s":"τ"},
{"p":"B","g":"tau","cls":"t26","t":26.08,"v":139.9,"s":"τ"},
{"p":"B","g":"tsub","cls":"t13","t":16.87,"v":147.1,"s":"13-22"},
{"p":"B","g":"tsub","cls":"t22","t":23.49,"v":151.4,"s":"22-26"},
{"p":"B","g":"tsub","cls":"t26","t":27.9,"v":135.6,"s":"26-29"},
{"p":"B","g":"leg","cls":"206 nm","t":51.93,"v":-5.6,"s":"206 nm (LIPIDS_E\\ACER'N43.D)"},
{"p":"B","g":"leg","cls":"254 nm","t":51.93,"v":-14,"s":"254 nm (LIPIDS_E\\ACER'N43.D)"},
{"p":"B","g":"pk","cls":"pk","t":10.35,"v":37.9,"s":"10.303"},
{"p":"B","g":"pk","cls":"pk","t":18.71,"v":36.5,"s":"18.946"},
{"p":"B","g":"pk","cls":"pk","t":19.07,"v":40.8,"s":"19.101"},
{"p":"B","g":"pk","cls":"pk","t":22.1,"v":116.9,"s":"22.108"},
{"p":"B","g":"pk","cls":"pk","t":25.54,"v":70.9,"s":"25.657"},
{"p":"B","g":"pk","cls":"pk","t":27.72,"v":69.5,"s":"27.882"},
{"p":"B","g":"pk","cls":"pk","t":28.04,"v":59.5,"s":"28.146"},
{"p":"B","g":"pk","cls":"pk","t":28.4,"v":60.9,"s":"28.372"},
{"p":"B","g":"pk","cls":"pk","t":29.03,"v":53.7,"s":"29.026"},
{"p":"B","g":"pk","cls":"pk","t":29.47,"v":55.2,"s":"29.511"},
{"p":"B","g":"pk","cls":"pk","t":30.45,"v":83.9,"s":"30.480"},
{"p":"B","g":"pk","cls":"pk","t":31.76,"v":63.8,"s":"31.784"},
{"p":"B","g":"pk","cls":"pk","t":34.71,"v":52.2,"s":"34.813"},
{"p":"B","g":"pk","cls":"pk","t":35.66,"v":52.2,"s":"35.709"},
{"p":"B","g":"pk","cls":"pk","t":40.93,"v":47.9,"s":"41.044"},
{"p":"B","g":"pk","cls":"pk","t":50.39,"v":29.3,"s":"50.379"},
{"p":"B","g":"pk","cls":"pk","t":51.53,"v":43.6,"s":"51.495"}
]
},
"vconcat":[
{"width":980,"height":276,
"layer":[
{"data":{"name":"tr"},"transform":[{"filter":"datum.p=='A'"}],
"mark":{"type":"line","strokeWidth":1.2,"interpolate":"monotone"},
"encoding":{
"x":{"field":"t","type":"quantitative","scale":{"type":"linear","domain":[-0.47,43.5,49.15,53.05],"range":[0,894.5,900.4,979.8],"zero":false,"nice":false},
"axis":{"title":null,"domain":false,"grid":false,"offset":-13,"tickCount":200,"format":"d","values":[0,1,2,3,4,5,6,7,8,9,10,11,12,13,14,15,16,17,18,19,20,21,22,23,24,25,26,27,28,29,30,31,32,33,34,35,36,37,38,39,40,41,42,50,52],
"labelExpr":"datum.value==52?'min':(datum.value%5==0?datum.label:'')",
"tickSize":{"condition":{"test":"datum.value%5==0","value":7},"value":3},
"labelPadding":{"condition":{"test":"datum.value==52","value":7},"value":3},
"tickColor":"#333","tickWidth":1.3,"labelColor":"#7a7a7a","labelFontSize":12.5,"labelFont":"Liberation Sans","labelOverlap":false,"labelFlush":false,"labelBound":false}},
"y":{"field":"v","type":"quantitative","scale":{"domain":[-13,225],"zero":false,"nice":false},
"axis":{"title":null,"domain":false,"grid":false,"tickCount":200,"values":[-10,0,10,20,30,40,50,60,70,80,90,100,110,120,130,140,150,160,170,180,190,200,210,220],
"labelExpr":"datum.value==220?'mAU':(datum.value%50==0&&datum.value>=0?datum.label:'')",
"tickSize":{"condition":{"test":"datum.value%50==0&&datum.value>=0&&datum.value<=200","value":8},"value":3.5},
"labelPadding":{"condition":{"test":"datum.value==220","value":2},"value":7},
"labelOffset":{"condition":{"test":"datum.value==220","value":5},"value":0},
"tickColor":"#333","tickWidth":1.3,"labelColor":"#7a7a7a","labelFontSize":12.5,"labelFont":"Liberation Sans","labelOverlap":false,"labelFlush":false,"labelBound":false}},
"color":{"field":"cls","type":"nominal","legend":null,"scale":{"domain":["206 nm","254 nm","E","F","D","To","T","S","TAG","t13","t22","t26","pk","ttl","axis"],"range":["#3a55a8","#e8262b","#9b4f9d","#f47a2c","#111111","#7a6d66","#7a6d66","#3a2d8f","#2f6ba5","#f5853f","#e8512b","#c3282c","#8c8c8c","#111111","#333333"]}},
"detail":{"field":"s"}}},
{"data":{"name":"rl"},"transform":[{"filter":"datum.p=='A' && datum.g=='ann'"}],
"mark":{"type":"rule","strokeWidth":1.5},
"encoding":{"x":{"field":"t","type":"quantitative"},"x2":{"field":"t2"},"y":{"field":"v","type":"quantitative"},"y2":{"field":"v2"},"color":{"field":"cls","type":"nominal","legend":null}}},
{"data":{"name":"rl"},"transform":[{"filter":"datum.p=='A' && datum.g=='axis'"}],
"mark":{"type":"rule","strokeWidth":1.3,"strokeDash":[2,2.5],"color":"#333"},
"encoding":{"x":{"field":"t","type":"quantitative"},"x2":{"field":"t2"},"y":{"field":"v","type":"quantitative"},"y2":{"field":"v2"}}},
{"data":{"name":"tx"},"transform":[{"filter":"datum.p=='A' && datum.g=='pk'"}],
"mark":{"type":"text","angle":270,"align":"left","baseline":"middle","font":"Liberation Mono","fontSize":8},
"encoding":{"x":{"field":"t","type":"quantitative"},"y":{"field":"v","type":"quantitative"},"text":{"field":"s"},"color":{"field":"cls","type":"nominal","legend":null}}},
{"data":{"name":"tx"},"transform":[{"filter":"datum.p=='A' && datum.g=='big'"}],
"mark":{"type":"text","align":"center","baseline":"alphabetic","font":"Liberation Sans Narrow, Liberation Sans","fontWeight":"bold","fontSize":21},
"encoding":{"x":{"field":"t","type":"quantitative"},"y":{"field":"v","type":"quantitative"},"text":{"field":"s"},"color":{"field":"cls","type":"nominal","legend":null}}},
{"data":{"name":"tx"},"transform":[{"filter":"datum.p=='A' && datum.g=='F'"}],
"mark":{"type":"text","align":"center","baseline":"alphabetic","font":"Liberation Sans Narrow, Liberation Sans","fontWeight":"bold","fontSize":18},
"encoding":{"x":{"field":"t","type":"quantitative"},"y":{"field":"v","type":"quantitative"},"text":{"field":"s"},"color":{"field":"cls","type":"nominal","legend":null}}},
{"data":{"name":"tx"},"transform":[{"filter":"datum.p=='A' && datum.g=='four'"}],
"mark":{"type":"text","align":"center","baseline":"alphabetic","font":"Liberation Sans Narrow, Liberation Sans","fontWeight":"bold","fontSize":15},
"encoding":{"x":{"field":"t","type":"quantitative"},"y":{"field":"v","type":"quantitative"},"text":{"field":"s"},"color":{"field":"cls","type":"nominal","legend":null}}},
{"data":{"name":"tx"},"transform":[{"filter":"datum.p=='A' && datum.g=='tau'"}],
"mark":{"type":"text","align":"center","baseline":"alphabetic","font":"DejaVu Serif","fontSize":40},
"encoding":{"x":{"field":"t","type":"quantitative"},"y":{"field":"v","type":"quantitative"},"text":{"field":"s"},"color":{"field":"cls","type":"nominal","legend":null}}},
{"data":{"name":"tx"},"transform":[{"filter":"datum.p=='A' && datum.g=='tsub'"}],
"mark":{"type":"text","align":"center","baseline":"alphabetic","font":"Liberation Sans","fontWeight":"bold","fontSize":20},
"encoding":{"x":{"field":"t","type":"quantitative"},"y":{"field":"v","type":"quantitative"},"text":{"field":"s"},"color":{"field":"cls","type":"nominal","legend":null}}},
{"data":{"name":"tx"},"transform":[{"filter":"datum.p=='A' && datum.g=='leg'"}],
"mark":{"type":"text","align":"right","baseline":"alphabetic","font":"Liberation Sans","fontSize":11},
"encoding":{"x":{"field":"t","type":"quantitative"},"y":{"field":"v","type":"quantitative"},"text":{"field":"s"},"color":{"field":"cls","type":"nominal","legend":null}}},
{"data":{"name":"tx"},"transform":[{"filter":"datum.p=='A' && datum.g=='ttlI'"}],
"mark":{"type":"text","align":"right","baseline":"alphabetic","font":"Liberation Sans","fontStyle":"italic","fontSize":23},
"encoding":{"x":{"field":"t","type":"quantitative"},"y":{"field":"v","type":"quantitative"},"text":{"field":"s"},"color":{"field":"cls","type":"nominal","legend":null}}},
{"data":{"name":"tx"},"transform":[{"filter":"datum.p=='A' && datum.g=='ttlN'"}],
"mark":{"type":"text","align":"left","baseline":"alphabetic","font":"Liberation Sans","fontSize":23},
"encoding":{"x":{"field":"t","type":"quantitative"},"y":{"field":"v","type":"quantitative"},"text":{"field":"s"},"color":{"field":"cls","type":"nominal","legend":null}}},
{"data":{"name":"tx"},"transform":[{"filter":"datum.p=='A' && datum.g=='pnl'"}],
"mark":{"type":"text","align":"center","baseline":"alphabetic","font":"Liberation Sans","fontStyle":"italic","fontSize":23},
"encoding":{"x":{"field":"t","type":"quantitative"},"y":{"field":"v","type":"quantitative"},"text":{"field":"s"},"color":{"field":"cls","type":"nominal","legend":null}}}
]},
{"width":980,"height":276,
"layer":[
{"data":{"name":"tr"},"transform":[{"filter":"datum.p=='B'"}],
"mark":{"type":"line","strokeWidth":1.2,"interpolate":"monotone"},
"encoding":{
"x":{"field":"t","type":"quantitative","scale":{"type":"linear","domain":[-0.47,43.5,49.15,53.05],"range":[0,894.5,900.4,979.8],"zero":false,"nice":false},
"axis":{"title":null,"domain":false,"grid":false,"offset":0,"tickCount":200,"format":"d","values":[0,1,2,3,4,5,6,7,8,9,10,11,12,13,14,15,16,17,18,19,20,21,22,23,24,25,26,27,28,29,30,31,32,33,34,35,36,37,38,39,40,41,42,50,52],
"labelExpr":"datum.value==52?'min':(datum.value%5==0?datum.label:'')",
"tickSize":{"condition":[{"test":"datum.value==50","value":20},{"test":"datum.value==52","value":15},{"test":"datum.value%5==0","value":7}],"value":3},
"tickDash":{"condition":{"test":"datum.value>=50","value":[0,12,100]},"value":[]},
"labelPadding":{"condition":[{"test":"datum.value==50","value":-2},{"test":"datum.value==52","value":3}],"value":3},
"tickColor":"#333","tickWidth":1.3,"labelColor":"#7a7a7a","labelFontSize":12.5,"labelFont":"Liberation Sans","labelOverlap":false,"labelFlush":false,"labelBound":false}},
"y":{"field":"v","type":"quantitative","scale":{"domain":[-13,225],"zero":false,"nice":false},
"axis":{"title":null,"domain":false,"grid":false,"tickCount":200,"values":[-10,0,10,20,30,40,50,60,70,80,90,100,110,120,130,140,150,160,170,180,190,200,210,220],
"labelExpr":"datum.value==220?'mAU':(datum.value%50==0&&datum.value>=0?datum.label:'')",
"tickSize":{"condition":{"test":"datum.value%50==0&&datum.value>=0&&datum.value<=200","value":8},"value":3.5},
"labelPadding":{"condition":{"test":"datum.value==220","value":2},"value":7},
"labelOffset":{"condition":{"test":"datum.value==220","value":5},"value":0},
"tickColor":"#333","tickWidth":1.3,"labelColor":"#7a7a7a","labelFontSize":12.5,"labelFont":"Liberation Sans","labelOverlap":false,"labelFlush":false,"labelBound":false}},
"color":{"field":"cls","type":"nominal","legend":null,"scale":{"domain":["206 nm","254 nm","E","F","D","To","T","S","TAG","t13","t22","t26","pk","ttl","axis"],"range":["#3a55a8","#e8262b","#9b4f9d","#f47a2c","#111111","#7a6d66","#7a6d66","#3a2d8f","#2f6ba5","#f5853f","#e8512b","#c3282c","#8c8c8c","#111111","#333333"]}},
"detail":{"field":"s"}}},
{"data":{"name":"rl"},"transform":[{"filter":"datum.p=='B' && datum.g=='ann'"}],
"mark":{"type":"rule","strokeWidth":1.5},
"encoding":{"x":{"field":"t","type":"quantitative"},"x2":{"field":"t2"},"y":{"field":"v","type":"quantitative"},"y2":{"field":"v2"},"color":{"field":"cls","type":"nominal","legend":null}}},
{"data":{"name":"rl"},"transform":[{"filter":"datum.p=='B' && datum.g=='axis'"}],
"mark":{"type":"rule","strokeWidth":1.3,"strokeDash":[2,2.5],"color":"#333"},
"encoding":{"x":{"field":"t","type":"quantitative"},"x2":{"field":"t2"},"y":{"field":"v","type":"quantitative"},"y2":{"field":"v2"}}},
{"data":{"name":"tx"},"transform":[{"filter":"datum.p=='B' && datum.g=='pk'"}],
"mark":{"type":"text","angle":270,"align":"left","baseline":"middle","font":"Liberation Mono","fontSize":8},
"encoding":{"x":{"field":"t","type":"quantitative"},"y":{"field":"v","type":"quantitative"},"text":{"field":"s"},"color":{"field":"cls","type":"nominal","legend":null}}},
{"data":{"name":"tx"},"transform":[{"filter":"datum.p=='B' && datum.g=='big'"}],
"mark":{"type":"text","align":"center","baseline":"alphabetic","font":"Liberation Sans Narrow, Liberation Sans","fontWeight":"bold","fontSize":21},
"encoding":{"x":{"field":"t","type":"quantitative"},"y":{"field":"v","type":"quantitative"},"text":{"field":"s"},"color":{"field":"cls","type":"nominal","legend":null}}},
{"data":{"name":"tx"},"transform":[{"filter":"datum.p=='B' && datum.g=='F'"}],
"mark":{"type":"text","align":"center","baseline":"alphabetic","font":"Liberation Sans Narrow, Liberation Sans","fontWeight":"bold","fontSize":18},
"encoding":{"x":{"field":"t","type":"quantitative"},"y":{"field":"v","type":"quantitative"},"text":{"field":"s"},"color":{"field":"cls","type":"nominal","legend":null}}},
{"data":{"name":"tx"},"transform":[{"filter":"datum.p=='B' && datum.g=='four'"}],
"mark":{"type":"text","align":"center","baseline":"alphabetic","font":"Liberation Sans Narrow, Liberation Sans","fontWeight":"bold","fontSize":15},
"encoding":{"x":{"field":"t","type":"quantitative"},"y":{"field":"v","type":"quantitative"},"text":{"field":"s"},"color":{"field":"cls","type":"nominal","legend":null}}},
{"data":{"name":"tx"},"transform":[{"filter":"datum.p=='B' && datum.g=='TAG'"}],
"mark":{"type":"text","align":"center","baseline":"alphabetic","font":"Liberation Sans","fontWeight":"bold","fontSize":18},
"encoding":{"x":{"field":"t","type":"quantitative"},"y":{"field":"v","type":"quantitative"},"text":{"field":"s"},"color":{"field":"cls","type":"nominal","legend":null}}},
{"data":{"name":"tx"},"transform":[{"filter":"datum.p=='B' && datum.g=='tau'"}],
"mark":{"type":"text","align":"center","baseline":"alphabetic","font":"DejaVu Serif","fontSize":40},
"encoding":{"x":{"field":"t","type":"quantitative"},"y":{"field":"v","type":"quantitative"},"text":{"field":"s"},"color":{"field":"cls","type":"nominal","legend":null}}},
{"data":{"name":"tx"},"transform":[{"filter":"datum.p=='B' && datum.g=='tsub'"}],
"mark":{"type":"text","align":"center","baseline":"alphabetic","font":"Liberation Sans","fontWeight":"bold","fontSize":20},
"encoding":{"x":{"field":"t","type":"quantitative"},"y":{"field":"v","type":"quantitative"},"text":{"field":"s"},"color":{"field":"cls","type":"nominal","legend":null}}},
{"data":{"name":"tx"},"transform":[{"filter":"datum.p=='B' && datum.g=='leg'"}],
"mark":{"type":"text","align":"right","baseline":"alphabetic","font":"Liberation Sans","fontSize":11},
"encoding":{"x":{"field":"t","type":"quantitative"},"y":{"field":"v","type":"quantitative"},"text":{"field":"s"},"color":{"field":"cls","type":"nominal","legend":null}}},
{"data":{"name":"tx"},"transform":[{"filter":"datum.p=='B' && datum.g=='pnl'"}],
"mark":{"type":"text","align":"center","baseline":"alphabetic","font":"Liberation Sans","fontStyle":"italic","fontSize":23},
"encoding":{"x":{"field":"t","type":"quantitative"},"y":{"field":"v","type":"quantitative"},"text":{"field":"s"},"color":{"field":"cls","type":"nominal","legend":null}}}
]}
]
}
